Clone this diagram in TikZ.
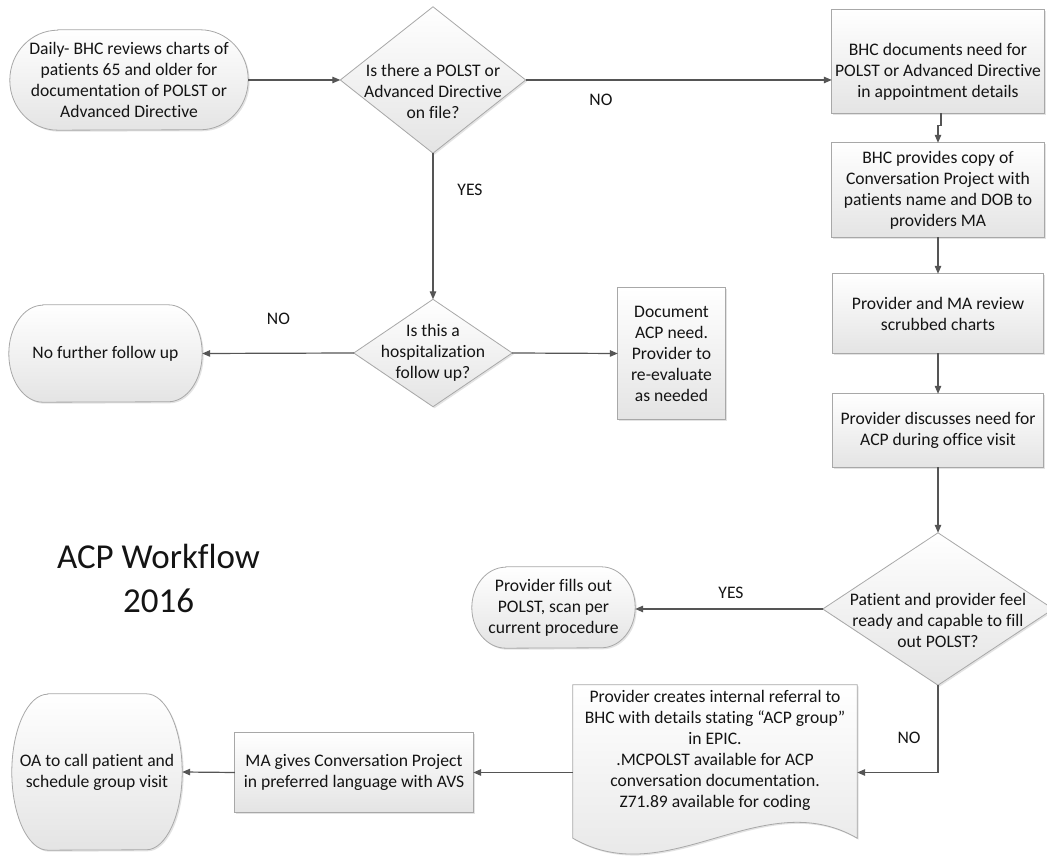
\documentclass[tikz,border=0pt]{standalone}
\usepackage{fontspec}
\setmainfont{Carlito}[Ligatures=NoCommon]
\usetikzlibrary{arrows.meta,shadows,calc}
\pgfdeclarelayer{background}
\pgfsetlayers{background,main}
\definecolor{linec}{HTML}{555555}
\definecolor{edgec}{HTML}{A8A8A8}
\definecolor{txtc}{HTML}{141414}
\definecolor{fillb}{HTML}{E4E4E4}
\newcommand\termpath[3]{%
  \path[shp] ([xshift=#2bp]#1.north west) -- ([xshift=-#2bp]#1.north east)
    arc[start angle=90,end angle=-90,x radius=#2bp,y radius=#3bp]
    -- ([xshift=#2bp]#1.south west)
    arc[start angle=270,end angle=90,x radius=#2bp,y radius=#3bp] -- cycle;}
\newcommand\diapath[1]{%
  \path[shp] (#1.north) -- (#1.east) -- (#1.south) -- (#1.west) -- cycle;}
\newcommand\boxpath[1]{%
  \path[shp] (#1.south west) rectangle (#1.north east);}
\tikzset{
  every node/.style={font=\fontsize{17.6bp}{21bp}\selectfont, text=txtc, align=center, inner sep=0pt},
  sz/.style 2 args={minimum width=#1bp, minimum height=#2bp},
  shp/.style={draw=edgec, line width=0.8bp, top color=white, bottom color=fillb,
    drop shadow={shadow xshift=1.5bp, shadow yshift=-1.5bp, opacity=0.22}},
  arr/.style={draw=linec, line width=1.2bp, -{Triangle[length=8bp,width=6.5bp]}},
  titlefont/.style={font=\fontsize{35bp}{44bp}\selectfont}
}
\begin{document}
\begin{tikzpicture}[x=1bp,y=1bp]
\useasboundingbox (0,0) rectangle (1047,858);
% nodes
\node[sz={238}{100}] (start) at (129,778) {Daily- BHC reviews charts of\\patients 65 and older for\\documentation of POLST or\\Advanced Directive};
\node[sz={185}{146}] (d1) at (433,778) {};
\node (d1t) at (433,767) {Is there a POLST or\\Advanced Directive\\on file?};
\node[sz={212}{103}] (b1) at (938,796.5) {};
\node (b1t) at (938,786) {BHC documents need for\\POLST or Advanced Directive\\in appointment details};
\node[sz={212}{94}] (b2) at (938,668) {BHC provides copy of\\Conversation Project with\\patients name and DOB to\\providers MA};
\node[sz={210}{79}] (b3) at (938,544.5) {Provider and MA review\\scrubbed charts};
\node[sz={210}{73}] (b4) at (938,427.5) {Provider discusses need for\\ACP during office visit};
\node[sz={158}{107}] (d2) at (433,505) {Is this a\\hospitalization\\follow up?};
\node[sz={193}{97}] (nofu) at (105.5,504.5) {No further follow up};
\node[sz={107}{131}] (docacp) at (671.5,504.5) {Document\\ACP need.\\Provider to\\re-evaluate\\as needed};
\node[sz={230}{152}] (d3) at (938,249) {};
\node (d3t) at (938,238) {Patient and provider feel\\ready and capable to fill\\out POLST?};
\node[sz={163}{81}] (fills) at (553.5,250.5) {Provider fills out\\POLST, scan per\\current procedure};
\node[sz={284}{153}] (refdoc) at (715,96.5) {};
\node (refdoct) at (715,108) {Provider creates internal referral to\\BHC with details stating “ACP group”\\in EPIC.\\.MCPOLST available for ACP\\conversation documentation.\\Z71.89 available for coding};
\node[sz={238}{79}] (ma) at (354,85.5) {MA gives Conversation Project\\in preferred language with AVS};
\node[sz={170}{156}] (oa) at (97,86) {OA to call patient and\\schedule group visit};
\node[titlefont] (title) at (158.5,280) {ACP Workflow\\2016};
% labels
\node (no1) at (601,758) {NO};
\node (yes1) at (470,668) {YES};
\node (no2) at (278.5,539) {NO};
\node (yes2) at (731,265) {YES};
\node (no3) at (909,120) {NO};
% shapes
\begin{pgfonlayer}{background}
\fill[white] (0,0) rectangle (1047,858);
\termpath{start}{48}{50}
\termpath{nofu}{34}{48.5}
\termpath{fills}{34}{40.5}
\termpath{oa}{36}{78}
\diapath{d1}
\diapath{d2}
\diapath{d3}
\boxpath{b1}
\boxpath{b2}
\boxpath{b3}
\boxpath{b4}
\boxpath{docacp}
\boxpath{ma}
\path[shp] (refdoc.north west) -- (refdoc.north east) -- (refdoc.south east)
  .. controls ($(refdoc.south east)+(-95,55)$) and ($(refdoc.south west)+(95,-55)$) .. (refdoc.south west) -- cycle;
\end{pgfonlayer}
% connectors
\draw[arr] (start.east) -- (d1.west);
\draw[arr] (d1.east) -- (d1.east -| b1.west);
\draw[arr] ([xshift=3bp]b1.south) -- ++(0,-12) -| (b2.north);
\draw[arr] (b2.south) -- (b3.north);
\draw[arr] (b3.south) -- (b4.north);
\draw[arr] (b4.south) -- (d3.north);
\draw[arr] (d1.south) -- (d2.north);
\draw[arr] (d2.west) -- (nofu.east);
\draw[arr] (d2.east) -- (docacp.west);
\draw[arr] (d3.west) -- (d3.west -| fills.east);
\draw[arr] (d3.south) |- (ma.east -| refdoc.east);
\draw[arr] (ma.east -| refdoc.west) -- (ma.east);
\draw[arr] (ma.west) -- (oa.east);
\end{tikzpicture}
\end{document}
